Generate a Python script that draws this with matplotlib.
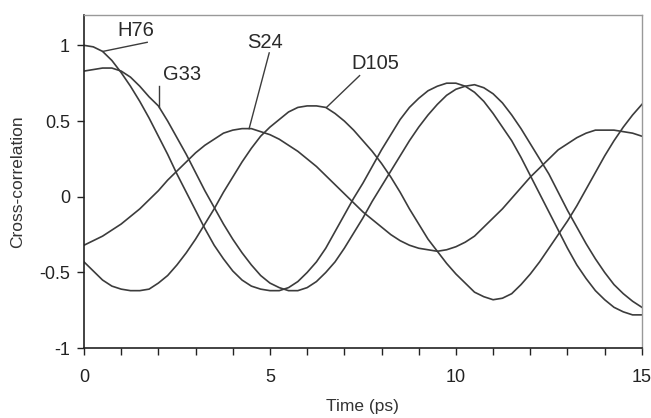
import matplotlib
matplotlib.use('Agg')
import matplotlib.pyplot as plt
import numpy as np

plt.rcParams['font.family'] = ['Liberation Sans', 'DejaVu Sans']

# time axis (ps), sampled every 0.25 ps
time_ps = np.arange(0, 15.01, 0.25)

h76 = [1.00, 0.99, 0.96, 0.90, 0.82, 0.73, 0.63, 0.52, 0.40, 0.28,
       0.15, 0.03, -0.09, -0.21, -0.32, -0.41, -0.49, -0.55, -0.59, -0.61,
       -0.62, -0.62, -0.60, -0.56, -0.50, -0.43, -0.34, -0.23, -0.12, -0.01,
       0.09, 0.20, 0.31, 0.41, 0.51, 0.59, 0.65, 0.70, 0.73, 0.75,
       0.75, 0.73, 0.69, 0.63, 0.55, 0.46, 0.37, 0.26, 0.14, 0.02,
       -0.10, -0.22, -0.34, -0.45, -0.54, -0.62, -0.68, -0.73, -0.76, -0.78,
       -0.78]

g33 = [0.83, 0.84, 0.85, 0.85, 0.83, 0.79, 0.73, 0.66, 0.60, 0.50,
       0.39, 0.28, 0.16, 0.04, -0.07, -0.18, -0.28, -0.37, -0.45, -0.52,
       -0.57, -0.60, -0.62, -0.62, -0.60, -0.56, -0.50, -0.43, -0.34, -0.24,
       -0.14, -0.03, 0.07, 0.17, 0.27, 0.37, 0.46, 0.54, 0.61, 0.67,
       0.71, 0.73, 0.74, 0.72, 0.68, 0.62, 0.54, 0.45, 0.35, 0.25,
       0.15, 0.03, -0.09, -0.20, -0.31, -0.41, -0.50, -0.58, -0.64, -0.69,
       -0.73]

s24 = [-0.32, -0.29, -0.26, -0.22, -0.18, -0.13, -0.08, -0.02, 0.04, 0.11,
       0.17, 0.23, 0.29, 0.34, 0.38, 0.42, 0.44, 0.45, 0.45, 0.43,
       0.41, 0.38, 0.34, 0.30, 0.25, 0.20, 0.14, 0.08, 0.02, -0.04,
       -0.10, -0.15, -0.20, -0.25, -0.29, -0.32, -0.34, -0.35, -0.36, -0.35,
       -0.33, -0.30, -0.26, -0.20, -0.14, -0.08, -0.01, 0.06, 0.13, 0.19,
       0.25, 0.31, 0.35, 0.39, 0.42, 0.44, 0.44, 0.44, 0.43, 0.42,
       0.40]

d105 = [-0.43, -0.49, -0.55, -0.59, -0.61, -0.62, -0.62, -0.61, -0.57, -0.52,
        -0.45, -0.37, -0.28, -0.18, -0.08, 0.03, 0.13, 0.23, 0.32, 0.40,
        0.46, 0.51, 0.56, 0.59, 0.60, 0.60, 0.59, 0.55, 0.50, 0.44,
        0.37, 0.30, 0.22, 0.13, 0.03, -0.08, -0.18, -0.28, -0.36, -0.44,
        -0.51, -0.57, -0.63, -0.66, -0.68, -0.67, -0.64, -0.58, -0.51, -0.43,
        -0.34, -0.25, -0.16, -0.06, 0.05, 0.16, 0.27, 0.37, 0.46, 0.54,
        0.61]

# curve labels: text position and leader line (from, to)
label_names = ['H76', 'G33', 'S24', 'D105']
label_text_xy = [(1.40, 1.10), (2.64, 0.81), (4.87, 1.02), (7.84, 0.88)]
label_line_from = [(1.70, 1.02), (2.02, 0.73), (4.98, 0.95), (7.41, 0.80)]
label_line_to = [(0.51, 0.96), (2.02, 0.59), (4.44, 0.45), (6.52, 0.59)]

x_ticks = list(range(0, 16))
x_tick_labels = [str(t) if t % 5 == 0 else '' for t in x_ticks]
y_ticks = [-1, -0.5, 0, 0.5, 1]
y_tick_labels = ['-1', '-0.5', '0', '0.5', '1']

fig = plt.figure(figsize=(6.51, 4.18), dpi=100)
ax = fig.add_axes([0.129, 0.167, 0.857, 0.797])

line_color = '#3c3c3c'
for series in [h76, g33, s24, d105]:
    ax.plot(time_ps, series, color=line_color, lw=1.2)

for name, txy, p0, p1 in zip(label_names, label_text_xy, label_line_from, label_line_to):
    ax.plot([p0[0], p1[0]], [p0[1], p1[1]], color=line_color, lw=1.0)
    ax.text(txy[0], txy[1], name, fontsize=14.5, ha='center', va='center', color='#2a2a2a')

ax.set_xlim(0, 15)
ax.set_ylim(-1, 1.2)
ax.set_xticks(x_ticks)
ax.set_xticklabels(x_tick_labels)
ax.set_yticks(y_ticks)
ax.set_yticklabels(y_tick_labels)
ax.tick_params(axis='both', direction='out', length=5, width=1, labelsize=13, colors='#222222')
ax.tick_params(axis='x', pad=10)
ax.tick_params(axis='y', pad=5)

for side in ['top', 'right']:
    ax.spines[side].set_color('#999999')
    ax.spines[side].set_linewidth(1.0)
for side in ['left', 'bottom']:
    ax.spines[side].set_color('#222222')
    ax.spines[side].set_linewidth(1.2)

ax.set_xlabel('Time (ps)', fontsize=12.5, color='#333333', labelpad=9)
ax.set_ylabel('Cross-correlation', fontsize=12.5, color='#333333', labelpad=10)

fig.savefig('out.png', dpi=100)
